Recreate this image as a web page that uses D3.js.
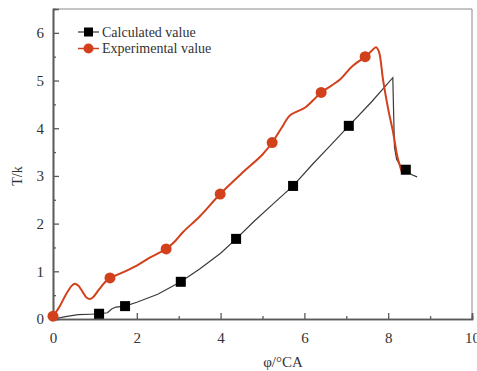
<!DOCTYPE html>
<html><head><meta charset="utf-8">
<script src="https://cdn.jsdelivr.net/npm/d3@7"></script>
<style>body{margin:0;background:#fff}svg{display:block}svg text{font-family:"Liberation Serif","Times New Roman",serif !important}</style>
</head><body><svg id="c" width="477" height="371"></svg>
<script>
const calcLineX=[0,0.3,0.6,0.9,1.1,1.3,1.4,1.5,1.72,2.0,2.5,3.05,3.5,4.0,4.37,4.8,5.3,5.73,6.2,6.6,7.06,7.6,8.11,8.13,8.15,8.2,8.3,8.42,8.55,8.69];
const calcLineY=[0,0.05,0.09,0.1,0.11,0.13,0.21,0.25,0.27,0.35,0.52,0.78,1.05,1.38,1.68,2.05,2.45,2.79,3.25,3.62,4.05,4.55,5.06,4.3,3.6,3.35,3.2,3.13,3.03,2.98];
const calcMarkX=[1.1,1.72,3.05,4.37,5.73,7.06,8.42];
const calcMarkY=[0.11,0.27,0.78,1.68,2.79,4.05,3.13];
const expLineX=[0,0.15,0.3,0.45,0.52,0.6,0.7,0.8,0.88,0.95,1.1,1.25,1.36,1.6,2.0,2.3,2.7,2.9,3.1,3.5,3.99,4.5,5.0,5.23,5.45,5.66,6.01,6.2,6.4,6.85,7.13,7.45,7.6,7.71,7.78,7.88,8.0,8.12,8.22,8.33];
const expLineY=[0.05,0.25,0.5,0.7,0.74,0.7,0.58,0.45,0.42,0.45,0.62,0.78,0.86,0.95,1.12,1.28,1.47,1.62,1.82,2.15,2.62,3.05,3.45,3.7,4.0,4.27,4.43,4.58,4.75,5.02,5.29,5.5,5.62,5.7,5.6,5.0,4.4,3.9,3.4,3.07];
const expMarkX=[0,1.36,2.7,3.99,5.23,6.4,7.45];
const expMarkY=[0.06,0.86,1.47,2.62,3.7,4.75,5.5];
const xTicks=[0,2,4,6,8,10];
const yTicks=[0,1,2,3,4,5,6];
const legendLabels=["Calculated value","Experimental value"];

const svg=d3.select("#c");
const L=53,R=472,T=9,B=319;
const x=d3.scaleLinear().domain([0,10]).range([L,R]);
const y=d3.scaleLinear().domain([0,6.5]).range([B,T]);
const red="#d2401c", blk="#000";
const serif="Liberation Serif, Times New Roman, serif";

svg.append("line").attr("x1",L).attr("x2",R).attr("y1",T).attr("y2",T).attr("stroke","#8a8a8a").attr("stroke-width",1);
svg.append("line").attr("x1",R).attr("x2",R).attr("y1",T).attr("y2",B).attr("stroke","#8a8a8a").attr("stroke-width",1);

const xAx=svg.append("g").attr("transform",`translate(0,${B})`)
 .call(d3.axisBottom(x).tickValues(xTicks).tickSize(-6).tickPadding(13).tickFormat(d3.format("d")));
const xMin=svg.append("g").attr("transform",`translate(0,${B})`)
 .call(d3.axisBottom(x).tickValues([1,3,5,7,9]).tickSize(-3).tickFormat(""));
const yAx=svg.append("g").attr("transform",`translate(${L},0)`)
 .call(d3.axisLeft(y).tickValues(yTicks).tickSize(-6).tickPadding(9).tickFormat(d3.format("d")));
const yMin=svg.append("g").attr("transform",`translate(${L},0)`)
 .call(d3.axisLeft(y).tickValues([0.5,1.5,2.5,3.5,4.5,5.5]).tickSize(-3).tickFormat(""));
[xAx,xMin,yAx,yMin].forEach(g=>{
  g.attr("font-family",serif).attr("font-size",15);
  g.selectAll(".domain").attr("stroke","#5a5a5a").attr("stroke-width",1.6);
  g.selectAll(".tick line").attr("stroke","#5a5a5a").attr("stroke-width",1.3);
  g.selectAll("text").style("font-family",serif).attr("font-size",15).attr("fill","#333");
});

const lineGen=d3.line().x(d=>x(d[0])).y(d=>y(d[1]));
svg.append("path").datum(calcLineX.map((v,i)=>[v,calcLineY[i]]))
 .attr("d",lineGen).attr("fill","none").attr("stroke","#3a3a3a").attr("stroke-width",1.2);
svg.append("path").datum(expLineX.map((v,i)=>[v,expLineY[i]]))
 .attr("d",lineGen.curve(d3.curveCatmullRom.alpha(0.5))).attr("fill","none").attr("stroke",red).attr("stroke-width",2);

svg.selectAll(".cm").data(calcMarkX.map((v,i)=>[v,calcMarkY[i]])).enter().append("rect")
 .attr("x",d=>x(d[0])-5).attr("y",d=>y(d[1])-5).attr("width",10).attr("height",10).attr("fill",blk);
svg.selectAll(".em").data(expMarkX.map((v,i)=>[v,expMarkY[i]])).enter().append("circle")
 .attr("cx",d=>x(d[0])).attr("cy",d=>y(d[1])).attr("r",5.5).attr("fill",red);

const lg=svg.append("g");
[0,1].forEach(i=>{
  const yy=32+i*16.5;
  lg.append("line").attr("x1",78).attr("x2",99).attr("y1",yy).attr("y2",yy).attr("stroke",i?red:"#333").attr("stroke-width",i?1.5:1.2);
  if(i===0) lg.append("rect").attr("x",84).attr("y",yy-4.5).attr("width",9).attr("height",9).attr("fill",blk);
  else lg.append("circle").attr("cx",88.5).attr("cy",yy).attr("r",5).attr("fill",red);
  lg.append("text").attr("x",102).attr("y",yy+4.5).attr("font-size",14).attr("fill","#333").style("font-family",serif).text(legendLabels[i]);
});

svg.append("text").attr("transform","translate(22,176) rotate(-90)").attr("text-anchor","middle")
 .attr("font-size",14).attr("fill","#333").style("font-family",serif).text("T/k");
svg.append("text").attr("x",283).attr("y",367).attr("text-anchor","middle")
 .attr("font-size",15).attr("fill","#333").style("font-family",serif).text("φ/°CA");
</script></body></html>
